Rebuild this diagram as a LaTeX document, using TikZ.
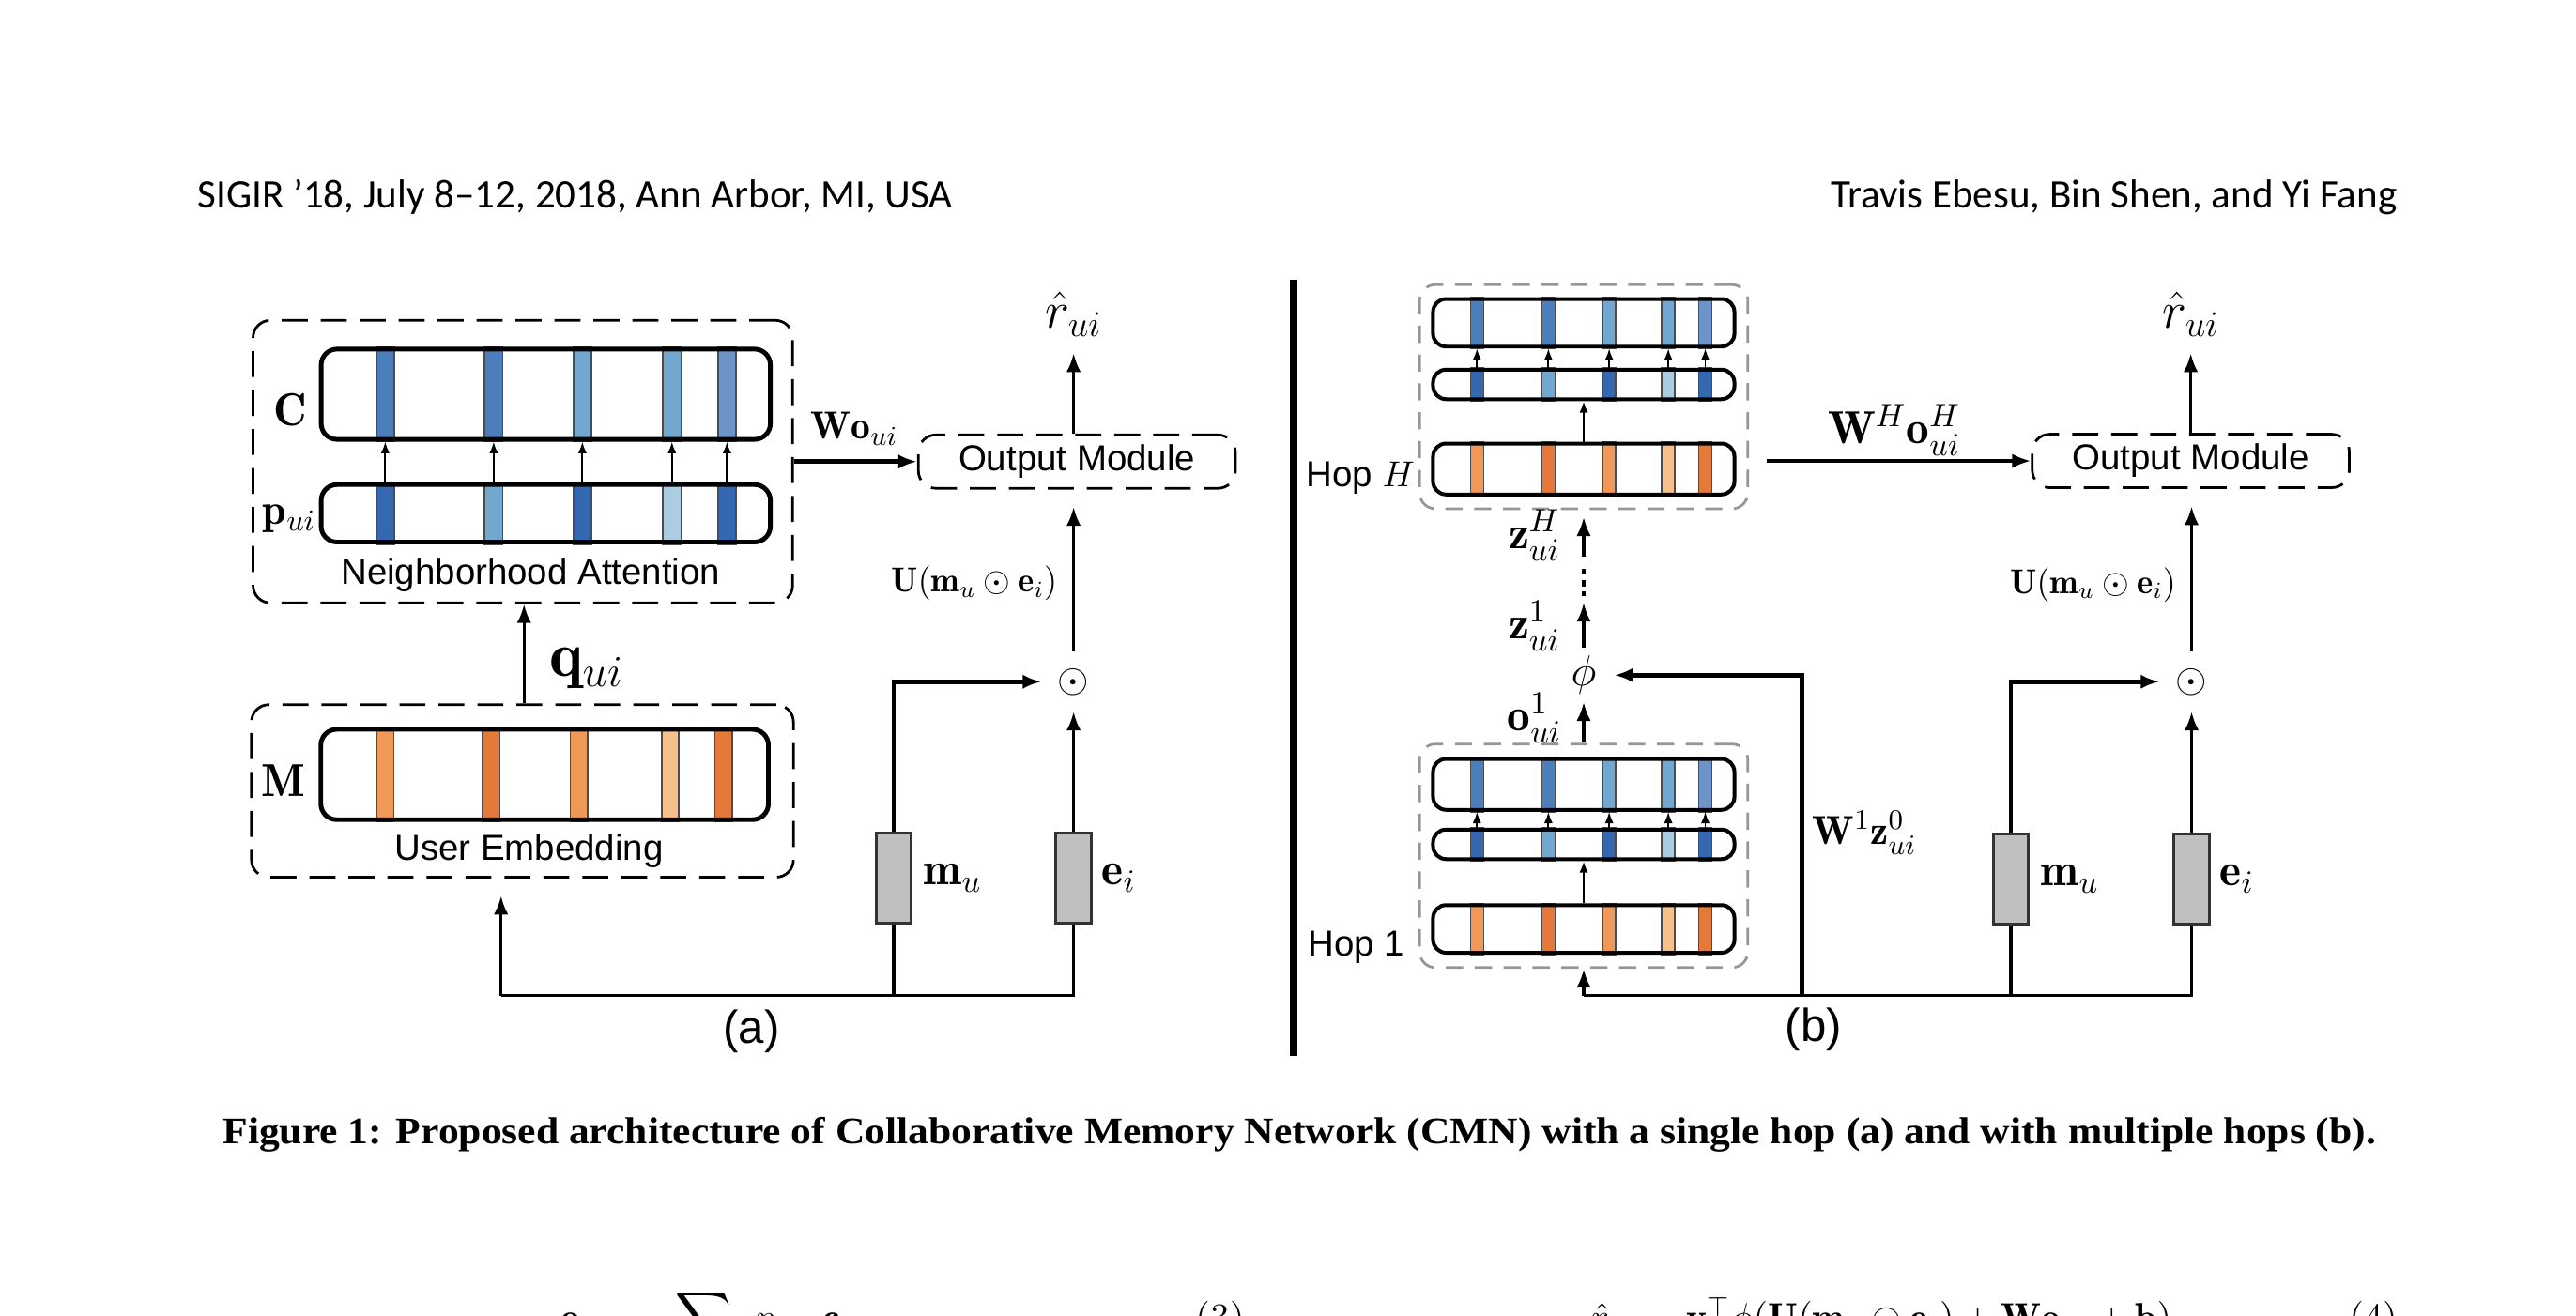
\RequirePackage{fix-cm}
\documentclass[tikz,border=0pt]{standalone}
\usepackage{amsmath,amssymb}
\usepackage{fontspec}
\setsansfont{Liberation Sans}
\newfontfamily\headfont{Carlito}
\newfontfamily\capfont[FakeStretch=1.09]{Liberation Serif}
\usepackage{tikz}
\usetikzlibrary{positioning,calc,fit,backgrounds,arrows.meta}

\definecolor{blueDark}{RGB}{52, 104, 176}
\definecolor{blueMid}{RGB}{76, 126, 188}
\definecolor{blueLight}{RGB}{114, 167, 208}
\definecolor{bluePale}{RGB}{170, 205, 228}
\definecolor{blueSlate}{RGB}{108, 148, 200}
\definecolor{orangeDark}{RGB}{228, 121, 58}
\definecolor{orangeMid}{RGB}{240, 152, 88}
\definecolor{orangePale}{RGB}{246, 192, 140}
\definecolor{gateGray}{RGB}{192, 192, 192}
\definecolor{hopGray}{RGB}{150, 150, 150}

\tikzset{
  membar/.style={draw, line width=1.6pt, rounded corners=5.5pt, inner sep=0pt},
  hopbar/.style={draw, line width=1.3pt, rounded corners=4.5pt, inner sep=0pt, minimum width=3.67cm},
  stripe/.style={draw=black!70, line width=0.5pt},
  modbox/.style={draw, line width=0.9pt, dash pattern=on 9pt off 4.5pt, rounded corners=6pt, inner sep=0pt},
  hopbox/.style={draw=hopGray, line width=0.9pt, dash pattern=on 6pt off 4pt, rounded corners=5.5pt, inner sep=0pt},
  gate/.style={draw=black!80, fill=gateGray, line width=0.9pt, inner sep=0pt, minimum width=0.43cm, minimum height=1.1cm},
  txt/.style={font=\sffamily\fontsize{12.5}{15}\selectfont, inner sep=1pt},
  sym/.style={inner sep=1pt},
  wire/.style={line width=1.1pt},
  arr/.style={-{Latex[length=6.5pt,width=5pt]}, line width=1.1pt},
  tip/.style={-{Latex[length=4pt,width=3pt]}, line width=0.6pt}
}

% coloured cells of a memory bar: node, cell width, list of x/colour
\newcommand{\barcells}[3]{%
  \begin{scope}[on background layer]
    \foreach \sx/\sc in {#3}
      \draw[stripe, fill=\sc] ({\sx-#2/2},0 |- #1.north) rectangle ({\sx+#2/2},0 |- #1.south);
  \end{scope}}

\begin{document}
\begin{tikzpicture}[x=0.02cm, y=-0.02cm]
\useasboundingbox (0,0) rectangle (1568,801);

% page header
\node[anchor=base west, inner sep=0pt, font=\headfont\fontsize{14}{16}\selectfont] (hdrL) at (120,126.5) {SIGIR ’18, July 8–12, 2018, Ann Arbor, MI, USA};
\node[anchor=base east, inner sep=0pt, font=\headfont\fontsize{14}{16}\selectfont] (hdrR) at (1459.5,126.5) {Travis Ebesu, Bin Shen, and Yi Fang};

% ---------- (a) single hop ----------
\node[modbox, minimum width=6.57cm, minimum height=3.44cm] (nbhd) at (318.25,281) {};
\node[membar, minimum width=5.47cm, minimum height=1.1cm] (memC) at (332.2,240) {};
\node[membar, minimum width=5.47cm, minimum height=0.7cm] (attP) at (332.2,312.5) {};
\barcells{memC}{11}{234.5/blueMid,300.5/blueMid,354.5/blueLight,409/blueLight,442.5/blueSlate}
\barcells{attP}{11}{234.5/blueDark,300.5/blueLight,354.5/blueDark,409/bluePale,442.5/blueDark}
\foreach \sx in {234.5,300.5,354.5,409,442.5}
  \draw[tip] (\sx,0 |- attP.north) -- (\sx,0 |- memC.south);
\node[sym, font=\fontsize{16}{18}\selectfont] (lblC) at (176.5,249.5) {$\mathbf{C}$};
\node[sym, font=\fontsize{15}{18}\selectfont] (lblP) at (176,316) {$\mathbf{p}_{ui}$};
\node[txt] (nbhdTxt) at (323,350) {Neighborhood Attention};

\node[modbox, minimum width=6.6cm, minimum height=2.1cm] (userE) at (318,481.5) {};
\node[membar, minimum width=5.45cm, minimum height=1.1cm] (memM) at (331.5,471.5) {};
\barcells{memM}{10.5}{234.5/orangeMid,299/orangeDark,352.5/orangeMid,408/orangePale,440.5/orangeDark}
\node[sym, font=\fontsize{16}{18}\selectfont] (lblM) at (172.5,475) {$\mathbf{M}$};
\node[txt] (userTxt) at (322,518) {User Embedding};

\node[modbox, minimum width=3.86cm, minimum height=0.65cm, txt] (outA) at (655.5,281) {Output Module};
\node[sym, inner sep=0pt, anchor=south, font=\fontsize{18}{20}\selectfont] (rhatA) at (653.5,205) {$\hat{r}_{ui}$};
\node[sym, inner sep=5.5pt, font=\fontsize{14}{16}\selectfont] (odA) at (653.5,415) {$\odot$};
\node[gate] (muA) at (544,534.5) {};
\node[gate] (eiA) at (653.5,534.5) {};
\node[sym, right=2.5pt of muA, font=\fontsize{16}{18}\selectfont] (muLblA) {$\mathbf{m}_u$};
\node[sym, right=2pt of eiA, font=\fontsize{16}{18}\selectfont] (eiLblA) {$\mathbf{e}_i$};
\node[sym, font=\fontsize{22}{24}\selectfont] (qLbl) at (357,407) {$\mathbf{q}_{ui}$};
\node[sym, font=\fontsize{13.5}{15}\selectfont] (woLbl) at (520,261) {$\mathbf{W}\mathbf{o}_{ui}$};
\node[sym, font=\fontsize{12}{14}\selectfont] (uLblA) at (593,355) {$\mathbf{U}(\mathbf{m}_u\odot\mathbf{e}_i)$};
\coordinate (busA) at (305,606);

\draw[arr] (userE.north -| 319,0) -- (nbhd.south -| 319,0);
\draw[arr, line width=1.5pt] (nbhd.east |- outA.west) -- (outA.west);
\draw[arr, shorten >=5.7pt] (rhatA.south |- outA.north) -- (rhatA.south);
\draw[arr, shorten >=6pt] (odA.north) -- (odA.north |- outA.south);
\draw[arr] (eiA.north) -- (odA.south);
\draw[arr, line width=1.5pt] (muA.north) |- (odA.west);
\draw[wire] (eiA.south) |- (busA);
\draw[wire] (muA.south) -- (muA.south |- busA);
\draw[arr, shorten >=6pt] (busA) -- (busA |- userE.south);
\node[txt, font=\sffamily\fontsize{16}{18}\selectfont] (tagA) at (457.5,628) {(a)};

% separator
\draw[line width=2.7pt] (787.5,170) -- (787.5,643);

% ---------- (b) multiple hops ----------
\node[hopbar, minimum height=0.58cm] (memH) at (964,196.5) {};
\node[hopbar, minimum height=0.36cm] (attH) at (964,234) {};
\node[hopbar, minimum height=0.62cm] (embH) at (964,285.5) {};
\barcells{memH}{8}{899/blueMid,942.5/blueMid,979.5/blueLight,1015.5/blueLight,1038/blueSlate}
\barcells{attH}{8}{899/blueDark,942.5/blueLight,979.5/blueDark,1015.5/bluePale,1038/blueDark}
\barcells{embH}{8}{899/orangeMid,942.5/orangeDark,979.5/orangeMid,1015.5/orangePale,1038/orangeDark}
\foreach \sx in {899,942.5,979.5,1015.5,1038}
  \draw[tip] (\sx,0 |- attH.north) -- (\sx,0 |- memH.south);
\draw[tip, line width=0.8pt] (embH.north) -- (attH.south);
\node[hopbox, fit=(memH)(embH), inner xsep=4pt, inner ysep=4.3pt] (hopH) {};
\node[txt] (hopHLbl) at (828,291) {Hop $H$};

\node[hopbar, minimum height=0.62cm] (memO) at (964,477.5) {};
\node[hopbar, minimum height=0.36cm] (attO) at (964,514) {};
\node[hopbar, minimum height=0.58cm] (embO) at (964,565.5) {};
\barcells{memO}{8}{899/blueMid,942.5/blueMid,979.5/blueLight,1015.5/blueLight,1038/blueSlate}
\barcells{attO}{8}{899/blueDark,942.5/blueLight,979.5/blueDark,1015.5/bluePale,1038/blueDark}
\barcells{embO}{8}{899/orangeMid,942.5/orangeDark,979.5/orangeMid,1015.5/orangePale,1038/orangeDark}
\foreach \sx in {899,942.5,979.5,1015.5,1038}
  \draw[tip] (\sx,0 |- attO.north) -- (\sx,0 |- memO.south);
\draw[tip, line width=0.8pt] (embO.north) -- (attO.south);
\node[hopbox, fit=(memO)(embO), inner xsep=4pt, inner ysep=4.5pt] (hopO) {};
\node[txt] (hopOLbl) at (825.5,577) {Hop 1};

\node[sym, inner xsep=0.5pt, inner ysep=2.5pt, font=\fontsize{15}{17}\selectfont] (phiB) at (964,411) {$\phi$};
\node[sym, font=\fontsize{16}{18}\selectfont] (zHLbl) at (934,326) {$\mathbf{z}^{H}_{ui}$};
\node[sym, font=\fontsize{16}{18}\selectfont] (z1Lbl) at (934,381) {$\mathbf{z}^{1}_{ui}$};
\node[sym, font=\fontsize{16}{18}\selectfont] (o1Lbl) at (934,437) {$\mathbf{o}^{1}_{ui}$};
\coordinate (zHTail) at (964,339);
\coordinate (dotsTop) at (964,346);
\coordinate (dotsBot) at (964,363);
\coordinate (z1Tip) at (964,367);

\node[modbox, minimum width=3.86cm, minimum height=0.65cm, txt] (outB) at (1333.5,280.6) {Output Module};
\node[sym, inner sep=0pt, anchor=south, font=\fontsize{18}{20}\selectfont] (rhatB) at (1333.5,205) {$\hat{r}_{ui}$};
\node[sym, inner sep=5.5pt, font=\fontsize{14}{16}\selectfont] (odB) at (1334,415) {$\odot$};
\node[gate] (muB) at (1224,535) {};
\node[gate] (eiB) at (1334,535) {};
\node[sym, right=2.5pt of muB, font=\fontsize{16}{18}\selectfont] (muLblB) {$\mathbf{m}_u$};
\node[sym, right=2pt of eiB, font=\fontsize{16}{18}\selectfont] (eiLblB) {$\mathbf{e}_i$};
\node[sym, font=\fontsize{16}{18}\selectfont] (whLbl) at (1153,262) {$\mathbf{W}^{H}\mathbf{o}^{H}_{ui}$};
\node[sym, font=\fontsize{12}{14}\selectfont] (uLblB) at (1274,356) {$\mathbf{U}(\mathbf{m}_u\odot\mathbf{e}_i)$};
\node[sym, font=\fontsize{14}{16}\selectfont] (w1Lbl) at (1135,507) {$\mathbf{W}^{1}\mathbf{z}^{0}_{ui}$};
\coordinate (busB) at (964,606);
\coordinate (busW) at (1097,606);

\draw[arr, line width=1.5pt, shorten <=6pt] (hopH.east |- outB.west) -- (outB.west);
\draw[arr, shorten >=2.5pt] (zHTail) -- (hopH.south);
\draw[line width=1.6pt, dash pattern=on 2.2pt off 1.8pt] (dotsTop) -- (dotsBot);
\draw[arr] (phiB.north) -- (z1Tip);
\draw[arr] (hopO.north) -- (phiB.south);
\draw[arr, line width=1.5pt, shorten >=5.5pt] (busW) |- (phiB.east);
\draw[wire] (eiB.south) |- (busB);
\draw[arr] (busB) -- (hopO.south);
\draw[wire] (muB.south) -- (muB.south |- busB);
\draw[arr, line width=1.5pt] (muB.north) |- (odB.west);
\draw[arr] (eiB.north) -- (odB.south);
\draw[arr, shorten >=6pt] (odB.north) -- (odB.north |- outB.south);
\draw[arr, shorten >=5.7pt] (rhatB.south |- outB.north) -- (rhatB.south);
\node[txt, font=\sffamily\fontsize{16}{18}\selectfont] (tagB) at (1104,627) {(b)};

% caption
\node[anchor=base, inner sep=0pt, font=\capfont\bfseries\fontsize{13}{15}\selectfont] (cap) at (791,696) {Figure 1: Proposed architecture of Collaborative Memory Network (CMN) with a single hop (a) and with multiple hops (b).};

% equations cut by the page edge
\begin{scope}
  \clip (0,0) rectangle (1568,801);
  \node[anchor=base west, inner sep=0pt, font=\fontsize{13.5}{16}\selectfont] (eqThree) at (341,810) {$\mathbf{o}_{ui} = \displaystyle\sum_{v\in N(i)} p_{uiv}\,\mathbf{c}_v$};
  \node[anchor=base east, inner sep=0pt, font=\fontsize{13.5}{16}\selectfont] (eqThreeNo) at (758,810) {(3)};
  \node[anchor=base west, inner sep=0pt, font=\fontsize{13.5}{16}\selectfont] (eqFour) at (968,810) {$\hat{r}_{ui} = \mathbf{v}^{\top}\phi(\mathbf{U}(\mathbf{m}_u\odot\mathbf{e}_i)+\mathbf{W}\mathbf{o}_{ui}+\mathbf{b})$};
  \node[anchor=base east, inner sep=0pt, font=\fontsize{13.5}{16}\selectfont] (eqFourNo) at (1460,810) {(4)};
\end{scope}
\end{tikzpicture}
\end{document}
